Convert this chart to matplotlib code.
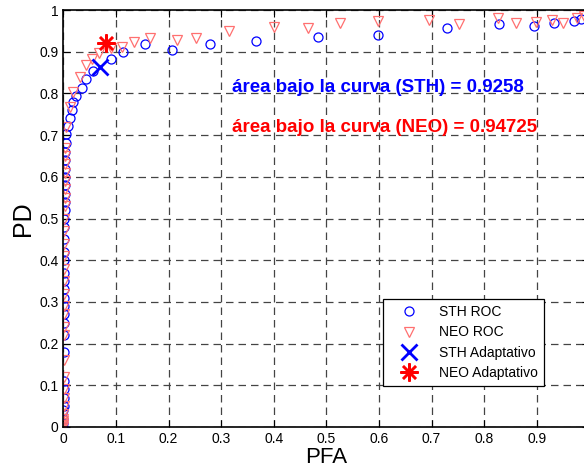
import numpy as np
import matplotlib.pyplot as plt
from matplotlib.ticker import FuncFormatter

plt.rcParams['font.family'] = ['Liberation Sans', 'DejaVu Sans']

# STH ROC points (PFA, PD)
sth_pfa = [0, 0, 0, 0, 0.001, 0.001, 0.001, 0.001, 0.002, 0.002, 0.002, 0.002, 0.002,
           0.002, 0.002, 0.002, 0.002, 0.002, 0.002, 0.002, 0.002, 0.002, 0.003, 0.003,
           0.003, 0.003, 0.003, 0.003, 0.004, 0.004, 0.005, 0.006, 0.0095, 0.013, 0.016,
           0.019, 0.025, 0.036, 0.044, 0.056, 0.091, 0.114, 0.156, 0.206, 0.278, 0.366,
           0.484, 0.598, 0.729, 0.828, 0.895, 0.933, 0.97, 0.985, 1.0]
sth_pd = [0.0, 0.01, 0.02, 0.04, 0.05, 0.07, 0.09, 0.11, 0.18, 0.22, 0.25, 0.27, 0.29,
          0.31, 0.33, 0.35, 0.37, 0.40, 0.42, 0.45, 0.48, 0.50, 0.52, 0.54, 0.56, 0.58,
          0.60, 0.62, 0.64, 0.66, 0.681, 0.704, 0.722, 0.740, 0.760, 0.780, 0.794, 0.812,
          0.835, 0.854, 0.882, 0.899, 0.918, 0.904, 0.918, 0.926, 0.935, 0.940, 0.957,
          0.966, 0.962, 0.968, 0.975, 0.978, 0.98]

# NEO ROC points (PFA, PD)
neo_pfa = [0, 0, 0, 0, 0, 0, 0.001, 0.001, 0.001, 0.001, 0.001, 0.002, 0.002, 0.002,
           0.002, 0.002, 0.002, 0.002, 0.002, 0.002, 0.002, 0.002, 0.003, 0.003, 0.003,
           0.003, 0.003, 0.003, 0.004, 0.004, 0.006, 0.013, 0.019, 0.032, 0.044, 0.054,
           0.067, 0.09, 0.111, 0.135, 0.165, 0.216, 0.252, 0.315, 0.40, 0.465, 0.526,
           0.598, 0.695, 0.752, 0.826, 0.861, 0.899, 0.930, 0.950, 0.976, 0.99, 1.0]
neo_pd = [0.0, 0.005, 0.01, 0.015, 0.02, 0.03, 0.05, 0.07, 0.09, 0.12, 0.16, 0.22, 0.24,
          0.27, 0.29, 0.32, 0.35, 0.38, 0.41, 0.44, 0.47, 0.50, 0.53, 0.55, 0.57, 0.59,
          0.61, 0.63, 0.65, 0.67, 0.72, 0.768, 0.804, 0.840, 0.868, 0.882, 0.898, 0.91,
          0.912, 0.924, 0.932, 0.928, 0.934, 0.950, 0.960, 0.956, 0.970, 0.974, 0.976,
          0.966, 0.982, 0.968, 0.972, 0.976, 0.970, 0.980, 0.985, 0.99]

sth_adapt = (0.070, 0.864)
neo_adapt = (0.081, 0.920)

auc_sth = 0.9258
auc_neo = 0.94725

fig = plt.figure(figsize=(5.84, 4.70), dpi=100)
ax = fig.add_axes([0.1084, 0.0915, 0.9007, 0.887])

ax.plot(sth_pfa, sth_pd, 'o', color='blue', mfc='none', ms=6.5, mew=0.9, label='STH ROC')
ax.plot(neo_pfa, neo_pd, 'v', color='#ff7070', mfc='none', ms=7, mew=0.9, label='NEO ROC')
ax.plot(*sth_adapt, 'x', color='blue', ms=11, mew=2, label='STH Adaptativo')
ax.plot(*neo_adapt, marker=(8, 2, 0), ls='none', color='red', ms=13, mew=1.8,
        label='NEO Adaptativo')

ax.text(0.32, 0.815, f'área bajo la curva (STH) = {auc_sth}', color='blue',
        fontsize=13.5, fontweight='bold', va='center')
ax.text(0.32, 0.719, f'área bajo la curva (NEO) = {auc_neo}', color='red',
        fontsize=13.5, fontweight='bold', va='center')

ax.set_xlim(0, 1)
ax.set_ylim(0, 1)
ax.set_xticks(np.arange(0, 1.01, 0.1))
ax.set_yticks(np.arange(0, 1.01, 0.1))
fmt = FuncFormatter(lambda v, p: f'{v:.1f}'.rstrip('0').rstrip('.') if v else '0')
# the x label at 1 falls outside the picture
xfmt = FuncFormatter(lambda v, p: '' if v > 0.95 else fmt(v, p))
ax.xaxis.set_major_formatter(xfmt)
ax.yaxis.set_major_formatter(fmt)
ax.tick_params(direction='in', top=True, right=True, labelsize=10, length=5)
ax.grid(True, color='#444444', linestyle=(0, (6, 4)), linewidth=0.9)
for s in ax.spines.values():
    s.set_linewidth(1.2)

ax.set_xlabel('PFA', fontsize=16, labelpad=1)
ax.set_ylabel('PD', fontsize=18, labelpad=3)

leg = ax.legend(loc='lower left', bbox_to_anchor=(0.608, 0.098), fontsize=10,
                fancybox=False, edgecolor='black', framealpha=1, borderaxespad=0,
                handlelength=2.8, labelspacing=0.45, borderpad=0.45)
leg.get_frame().set_linewidth(0.9)

fig.savefig('out.png', dpi=100)
